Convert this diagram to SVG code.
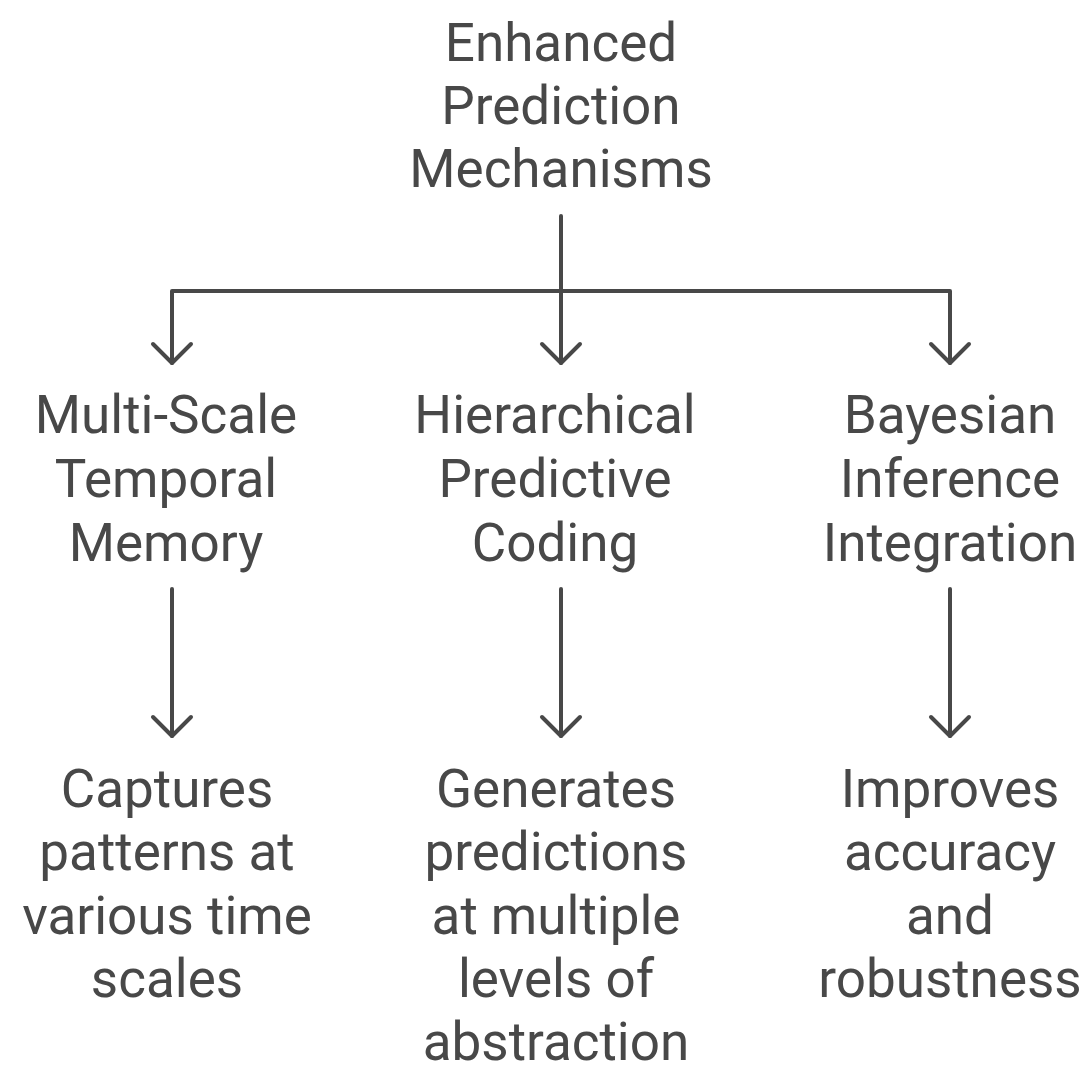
<svg xmlns="http://www.w3.org/2000/svg" width="1087" height="1065" viewBox="0 0 1087 1065">
  <defs>
    <style>
      .lbl { font-family: Roboto, "Liberation Sans", sans-serif; font-size: 53px; fill: #484848; text-anchor: middle; }
      .wire { fill: none; stroke: #484848; stroke-width: 4; stroke-linecap: round; stroke-linejoin: round; }
    </style>
  </defs>
  <rect width="1087" height="1065" fill="#ffffff"/>

  <g id="connectors">
    <!-- trunk from the root and the bus that splits it three ways -->
    <path class="wire" d="M 561 216 L 561 291"/>
    <path class="wire" d="M 172 363 L 172 291 L 950 291 L 950 363"/>
    <path class="wire" d="M 561 291 L 561 363"/>
    <path class="wire" d="M 153 344 L 172 363 L 191 344"/>
    <path class="wire" d="M 542 344 L 561 363 L 580 344"/>
    <path class="wire" d="M 931 344 L 950 363 L 969 344"/>
    <!-- each mechanism down to its effect -->
    <path class="wire" d="M 172 589 L 172 736"/>
    <path class="wire" d="M 561 589 L 561 736"/>
    <path class="wire" d="M 950 589 L 950 736"/>
    <path class="wire" d="M 153 717 L 172 736 L 191 717"/>
    <path class="wire" d="M 542 717 L 561 736 L 580 717"/>
    <path class="wire" d="M 931 717 L 950 736 L 969 717"/>
  </g>

  <g id="root">
    <text class="lbl" x="561" y="61">Enhanced</text>
    <text class="lbl" x="561" y="124">Prediction</text>
    <text class="lbl" x="561" y="187">Mechanisms</text>
  </g>

  <g id="multi-scale">
    <text class="lbl" x="166" y="433">Multi-Scale</text>
    <text class="lbl" x="166" y="497">Temporal</text>
    <text class="lbl" x="166" y="561">Memory</text>
  </g>
  <g id="hierarchical">
    <text class="lbl" x="555" y="433">Hierarchical</text>
    <text class="lbl" x="555" y="497">Predictive</text>
    <text class="lbl" x="555" y="561">Coding</text>
  </g>
  <g id="bayesian">
    <text class="lbl" x="950" y="433">Bayesian</text>
    <text class="lbl" x="950" y="497">Inference</text>
    <text class="lbl" x="950" y="561">Integration</text>
  </g>

  <g id="captures">
    <text class="lbl" x="167" y="807">Captures</text>
    <text class="lbl" x="167" y="870">patterns at</text>
    <text class="lbl" x="167" y="934">various time</text>
    <text class="lbl" x="167" y="997">scales</text>
  </g>
  <g id="generates">
    <text class="lbl" x="556" y="807">Generates</text>
    <text class="lbl" x="556" y="870">predictions</text>
    <text class="lbl" x="556" y="934">at multiple</text>
    <text class="lbl" x="556" y="997">levels of</text>
    <text class="lbl" x="556" y="1060">abstraction</text>
  </g>
  <g id="improves">
    <text class="lbl" x="950" y="807">Improves</text>
    <text class="lbl" x="950" y="870">accuracy</text>
    <text class="lbl" x="950" y="934">and</text>
    <text class="lbl" x="950" y="997">robustness</text>
  </g>
</svg>
